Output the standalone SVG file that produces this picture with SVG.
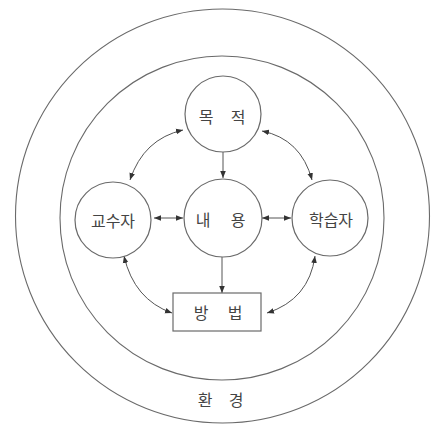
<svg xmlns="http://www.w3.org/2000/svg" width="431" height="428" viewBox="0 0 431 428">
<defs>
<style>
.ring{fill:none;stroke:#6a6a6a;stroke-width:1.1}
.node{fill:#fff;stroke:#6a6a6a;stroke-width:1.2}
.lbl{font-family:"Noto Sans CJK KR","Noto Sans",sans-serif;font-size:16px;fill:#444;text-anchor:middle;dominant-baseline:central}
.con{fill:none;stroke:#555;stroke-width:1}
</style>
<marker id="ah" viewBox="0 0 10 10" refX="10" refY="5" markerWidth="7" markerHeight="7" orient="auto-start-reverse" markerUnits="userSpaceOnUse">
<path d="M0,1 L10,5 L0,9 Z" fill="#333"/>
</marker>
</defs>
<rect width="431" height="428" fill="#fff"/>
<g id="environment">
<circle class="ring" cx="222.5" cy="216" r="207"/>
<circle class="ring" cx="222" cy="218" r="162"/>
<text class="lbl" y="399"><tspan x="207">환</tspan> <tspan x="236">경</tspan></text>
</g>
<g id="connectors">
<line class="con" x1="223" y1="152" x2="223" y2="178" marker-end="url(#ah)"/>
<line class="con" x1="222" y1="257" x2="222" y2="293" marker-end="url(#ah)"/>
<line class="con" x1="154" y1="218" x2="183" y2="218" marker-start="url(#ah)" marker-end="url(#ah)"/>
<line class="con" x1="262" y1="218" x2="291" y2="218" marker-start="url(#ah)" marker-end="url(#ah)"/>
<path class="con" d="M183,130 Q143.5,139 130,180" marker-start="url(#ah)" marker-end="url(#ah)"/>
<path class="con" d="M262,131 Q301,139 312,180" marker-start="url(#ah)" marker-end="url(#ah)"/>
<path class="con" d="M124,256 Q134,299.5 172,313" marker-start="url(#ah)" marker-end="url(#ah)"/>
<path class="con" d="M315,256 Q309,299.5 267,313" marker-start="url(#ah)" marker-end="url(#ah)"/>
</g>
<g id="goal">
<circle class="node" cx="223" cy="114" r="38"/>
<text class="lbl" y="116"><tspan x="208">목</tspan> <tspan x="238">적</tspan></text>
</g>
<g id="content">
<circle class="node" cx="223" cy="218" r="39"/>
<text class="lbl" y="219"><tspan x="205">내</tspan> <tspan x="238">용</tspan></text>
</g>
<g id="teacher">
<circle class="node" cx="113" cy="220" r="38"/>
<text class="lbl" x="113" y="220">교수자</text>
</g>
<g id="learner">
<circle class="node" cx="330" cy="218" r="38"/>
<text class="lbl" x="331" y="219">학습자</text>
</g>
<g id="method">
<rect class="node" x="173" y="293" width="88" height="38"/>
<text class="lbl" y="312"><tspan x="203">방</tspan> <tspan x="235">법</tspan></text>
</g>
</svg>
